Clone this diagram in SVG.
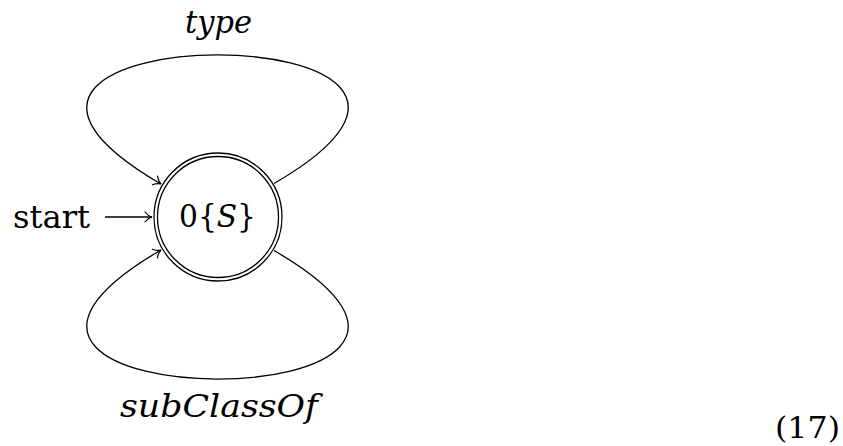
<svg xmlns="http://www.w3.org/2000/svg" width="843" height="446" viewBox="0 0 843 446">
<style>
.edge{fill:none;stroke:#000;stroke-width:1.3}
.ring{fill:none;stroke:#000;stroke-width:1.3}
</style>
<defs>
<marker id="to" markerUnits="userSpaceOnUse" viewBox="-9 -7 11 14" markerWidth="11" markerHeight="14" refX="0" refY="0" orient="auto">
<path d="M-7,-5 C-4.5,-1.6 -1.6,-0.4 0,0 C-1.6,0.4 -4.5,1.6 -7,5" fill="none" stroke="#000" stroke-width="1.2" stroke-linecap="round"/>
</marker>
</defs>
<g id="edges">
<path class="edge" d="M105,217 L152,217" marker-end="url(#to)"/>
<path class="edge" d="M274,183.5 C570,12 -135,12 161,184" marker-end="url(#to)"/>
<path class="edge" d="M274,250.5 C570,422 -135,422 161,250" marker-end="url(#to)"/>
</g>
<g id="start" font-family="DejaVu Serif, serif" font-size="31" fill="#000">
<text x="13" y="228" textLength="77" lengthAdjust="spacingAndGlyphs">start</text>
</g>
<g id="node0" font-family="DejaVu Serif, serif" font-size="31" fill="#000">
<circle class="ring" cx="218" cy="217" r="64"/>
<circle class="ring" cx="218" cy="217" r="60.5"/>
<text x="179" y="227" textLength="77" lengthAdjust="spacingAndGlyphs">0{<tspan font-style="italic">S</tspan>}</text>
</g>
<g id="labels" font-family="DejaVu Serif, serif" font-size="31" font-style="italic" fill="#000">
<text x="185" y="33" textLength="67" lengthAdjust="spacingAndGlyphs">type</text>
<text x="120" y="417" textLength="198" lengthAdjust="spacingAndGlyphs">subClassOf</text>
</g>
<g id="eqnum" font-family="DejaVu Serif, serif" font-size="29" fill="#000">
<text x="775" y="438" textLength="65" lengthAdjust="spacingAndGlyphs">(17)</text>
</g>
</svg>
